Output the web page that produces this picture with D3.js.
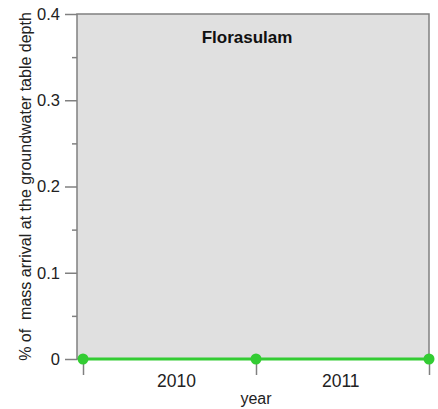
<!DOCTYPE html>
<html><head><meta charset="utf-8">
<script src="https://cdn.jsdelivr.net/npm/d3@7"></script>
<style>body{margin:0;background:#fff;}svg{display:block;font-family:Arial,"Liberation Sans",sans-serif;}</style>
</head><body>
<svg id="c" width="438" height="409"></svg>
<script>
const title = "Florasulam";
const years = [2010, 2011, 2012];           // point positions (start of each year)
const values = [0, 0, 0];                   // % mass arrival
const yearLabels = ["2010", "2011"];
const yearLabelPos = [2010.54, 2011.49];
const yTicks = [0, 0.1, 0.2, 0.3, 0.4];
const yMinorTicks = [0.05, 0.15, 0.25, 0.35];
const yLabel = "% of  mass arrival at the groundwater table depth";
const xLabel = "year";

const svg = d3.select("#c");
const pL = 77, pR = 429, pT = 14, pB = 359;
const x = d3.scaleLinear().domain([2010, 2012]).range([83, 429]);
const y = d3.scaleLinear().domain([0, 0.4]).range([pB, pT]);
const axisCol = "#808080", textCol = "#222";

svg.append("rect").attr("x", pL).attr("y", pT).attr("width", pR - pL).attr("height", pB - pT)
  .attr("fill", "#e0e0e0").attr("stroke", axisCol).attr("stroke-width", 1.5);

// y axis
const ya = svg.append("g").attr("transform", `translate(${pL},0)`)
  .call(d3.axisLeft(y).tickValues(yTicks).tickSize(12).tickPadding(5).tickFormat(d => d === 0 ? "0" : d3.format(".1f")(d)));
ya.select(".domain").remove();
ya.selectAll("line").attr("stroke", axisCol).attr("stroke-width", 1.5);
ya.selectAll("text").attr("fill", textCol).attr("font-size", 16.5).attr("font-family", "Arial,'Liberation Sans',sans-serif");
const ym = svg.append("g").attr("transform", `translate(${pL},0)`)
  .call(d3.axisLeft(y).tickValues(yMinorTicks).tickSize(5).tickFormat(""));
ym.select(".domain").remove();
ym.selectAll("line").attr("stroke", axisCol).attr("stroke-width", 1.5);

// x axis
const xa = svg.append("g").attr("transform", `translate(0,${pB})`)
  .call(d3.axisBottom(x).tickValues(years).tickSize(16).tickFormat(""));
xa.select(".domain").remove();
xa.selectAll("line").attr("stroke", axisCol).attr("stroke-width", 1.5);
svg.selectAll(".ylab").data(yearLabels).enter().append("text")
  .attr("x", (d, i) => x(yearLabelPos[i])).attr("y", 387)
  .attr("text-anchor", "middle").attr("font-size", 17.5).attr("fill", textCol).text(d => d);

svg.append("text").attr("x", x(2011)).attr("y", 404).attr("text-anchor", "middle")
  .attr("font-size", 16).attr("fill", textCol).text(xLabel);
svg.append("text").attr("transform", `translate(31,${(pT + pB) / 2}) rotate(-90)`)
  .attr("text-anchor", "middle").attr("font-size", 16).attr("fill", textCol)
  .style("white-space", "pre").text(yLabel);

svg.append("text").attr("x", 247).attr("y", 43).attr("text-anchor", "middle")
  .attr("font-size", 17).attr("font-weight", "bold").attr("fill", "#111").text(title);

// series
const green = "#33cc33";
svg.append("path").datum(years.map((d, i) => [d, values[i]]))
  .attr("d", d3.line().x(d => x(d[0])).y(d => y(d[1])))
  .attr("fill", "none").attr("stroke", green).attr("stroke-width", 3);
svg.selectAll(".pt").data(years).enter().append("circle")
  .attr("cx", d => x(d)).attr("cy", (d, i) => y(values[i])).attr("r", 5.5).attr("fill", green);
</script>
</body></html>
